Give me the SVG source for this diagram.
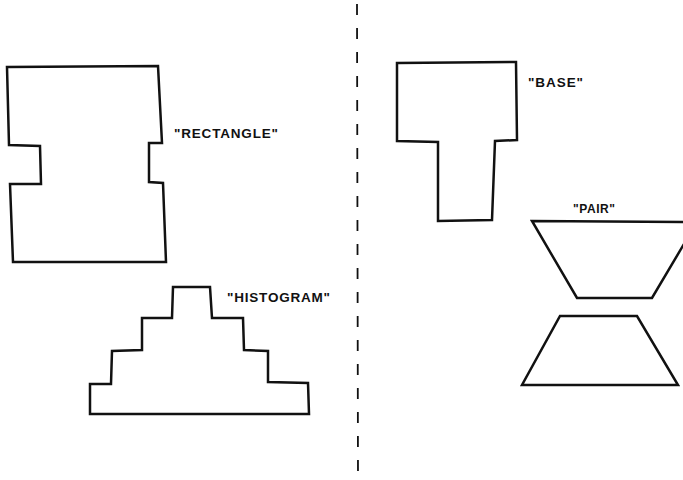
<svg xmlns="http://www.w3.org/2000/svg" width="683" height="480" viewBox="0 0 683 480">
<style>
.shape{fill:none;stroke:#111;stroke-width:2.5;stroke-linejoin:miter}
.lbl{font-family:"Liberation Sans",Arial,sans-serif;font-size:13.5px;font-weight:bold;fill:#111}
.small{font-size:12px}
.div{stroke:#111;stroke-width:1.8;stroke-dasharray:11 13;fill:none}
</style>
<rect width="683" height="480" fill="#fff"/>
<g id="divider">
<path class="div" d="M357,4 L358,480"/>
</g>
<g id="rectangle">
<path class="shape" d="M7,67 L158,66 L162,143 L149,143 L149,182 L163,183 L166,262 L13,262 L10,184 L41,184 L40,146 L9,145 Z"/>
<text class="lbl" x="174" y="138" textLength="104" lengthAdjust="spacing">"RECTANGLE"</text>
</g>
<g id="histogram">
<path class="shape" d="M90,414 L90,384 L111,384 L112,351 L142,350 L142,318 L172,318 L173,287 L210,287 L212,318 L243,318 L244,350 L268,351 L268,382 L308,383 L309,414 Z"/>
<text class="lbl" x="227" y="302" textLength="103" lengthAdjust="spacing">"HISTOGRAM"</text>
</g>
<g id="base">
<path class="shape" d="M397,63 L516,62 L517,140 L495,141 L492,220 L438,221 L438,142 L397,141 Z"/>
<text class="lbl" x="528" y="87" textLength="55" lengthAdjust="spacing">"BASE"</text>
</g>
<g id="pair">
<path class="shape" d="M532,221 L697,222 L652,298 L577,298 Z"/>
<path class="shape" d="M560,316 L637,316 L678,385 L522,385 Z"/>
<text class="lbl small" x="573" y="213" textLength="42" lengthAdjust="spacing">"PAIR"</text>
</g>
</svg>
